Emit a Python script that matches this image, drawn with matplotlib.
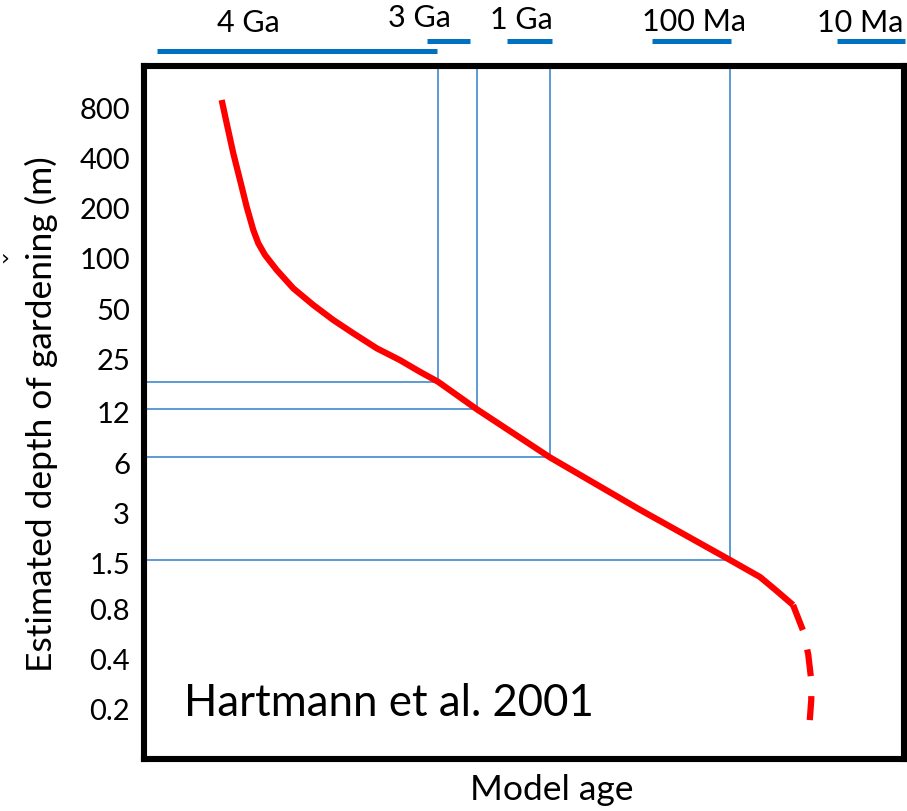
import matplotlib
matplotlib.use("Agg")
import matplotlib.pyplot as plt
from matplotlib.transforms import blended_transform_factory

plt.rcParams['font.family'] = ['Lato', 'DejaVu Sans']

# Depth ticks (m) on a log-2 scale
depth_ticks = [800, 400, 200, 100, 50, 25, 12, 6, 3, 1.5, 0.8, 0.4, 0.2]
depth_labels = ["800", "400", "200", "100", "50", "25", "12", "6", "3", "1.5", "0.8", "0.4", "0.2"]

# Gardening-depth curve: schematic model-age position (0 = oldest, 100 = youngest) vs depth (m)
curve_age = [10.22, 10.88, 11.75, 12.63, 13.51, 14.38, 15.04, 15.92, 17.46, 19.64,
             22.28, 24.91, 27.54, 30.62, 33.68, 36.32, 38.7, 43.8, 53.4, 65.3,
             77.1, 81.05, 83.16, 85.4]
curve_depth = [893, 648, 428, 297, 205, 149, 124, 105.6, 85.9, 66.7,
               53.0, 43.1, 35.9, 29.2, 24.8, 21.1, 18.4, 12.6, 6.5, 3.15,
               1.58, 1.25, 1.04, 0.85]

# Uncertain shallow tail (dashed)
tail_age = [85.4, 86.7, 87.4, 87.8, 87.8, 87.6]
tail_depth = [0.85, 0.60, 0.43, 0.30, 0.23, 0.174]

# Reference readings: where each age band meets the curve
ref_age = [38.7, 43.8, 53.4, 77.1]
ref_depth = [18.4, 12.6, 6.5, 1.58]

# Age bands shown above the plot
band_labels = ["4 Ga", "3 Ga", "1 Ga", "100 Ma", "10 Ma"]
band_start = [1.7, 37.2, 47.8, 66.8, 91.2]
band_end = [38.6, 42.9, 53.7, 77.2, 100.1]
band_label_x = [13.7, 36.3, 49.7, 72.4, 94.2]

W, H = 907, 811
fig = plt.figure(figsize=(W / 100, H / 100), dpi=100)
left, right, top, bottom = 144, 904, 66, 759
ax = fig.add_axes([left / W, 1 - bottom / H, (right - left) / W, (bottom - top) / H])

ax.set_yscale('log', base=2)
ax.set_ylim(0.1018, 1427)
ax.set_xlim(0, 100)

ax.set_yticks(depth_ticks)
ax.set_yticklabels(depth_labels)
ax.minorticks_off()
ax.tick_params(axis='y', length=0, pad=10, labelsize=21)
ax.set_xticks([])

for sp in ax.spines.values():
    sp.set_linewidth(4.4)
    sp.set_color('black')

ref_color = '#5B9BD5'
for a, d in zip(ref_age, ref_depth):
    ax.plot([0, a], [d, d], color=ref_color, lw=1.4, zorder=2)
    ax.plot([a, a], [d, 1427], color=ref_color, lw=1.4, zorder=2)

ax.plot(curve_age, curve_depth, color='#FF0000', lw=4.5, solid_capstyle='butt',
        solid_joinstyle='round', zorder=3)
tail, = ax.plot(tail_age, tail_depth, color='#FF0000', lw=4.5, zorder=3,
                dash_capstyle='butt')
tail.set_dashes((4.3, 3.2))

ax.text(0.053, 0.08, "Hartmann et al. 2001", transform=ax.transAxes,
        fontsize=31.5, ha='left', va='center')

ax.set_ylabel("Estimated depth of gardening (m)", fontsize=25.5)
ax.yaxis.set_label_coords((41 - left) / (right - left), (bottom - 414) / (bottom - top))
ax.yaxis.label.set_verticalalignment('center')
ax.set_xlabel("Model age", fontsize=25.5)
ax.xaxis.set_label_coords(0.536, -(790 - bottom) / (bottom - top))
ax.xaxis.label.set_verticalalignment('center')

# Age bands above the frame
bt = blended_transform_factory(ax.transData, fig.transFigure)
band_y = [51, 41, 41, 41, 41]
label_y = [23, 18, 20, 22, 23]
for lab, s, e, lx, by, ly in zip(band_labels, band_start, band_end, band_label_x, band_y, label_y):
    ax.plot([s, e], [1 - by / H, 1 - by / H], color='#0070C0', lw=3.6,
            transform=bt, clip_on=False, solid_capstyle='butt')
    ax.text(lx, 1 - ly / H, lab, transform=bt, ha='center', va='center', fontsize=22)

fig.text(0.5 / W, 1 - 258 / H, "›", fontsize=16, ha='left', va='center',
         family='DejaVu Sans')

fig.savefig("out.png", dpi=100, facecolor='white')
